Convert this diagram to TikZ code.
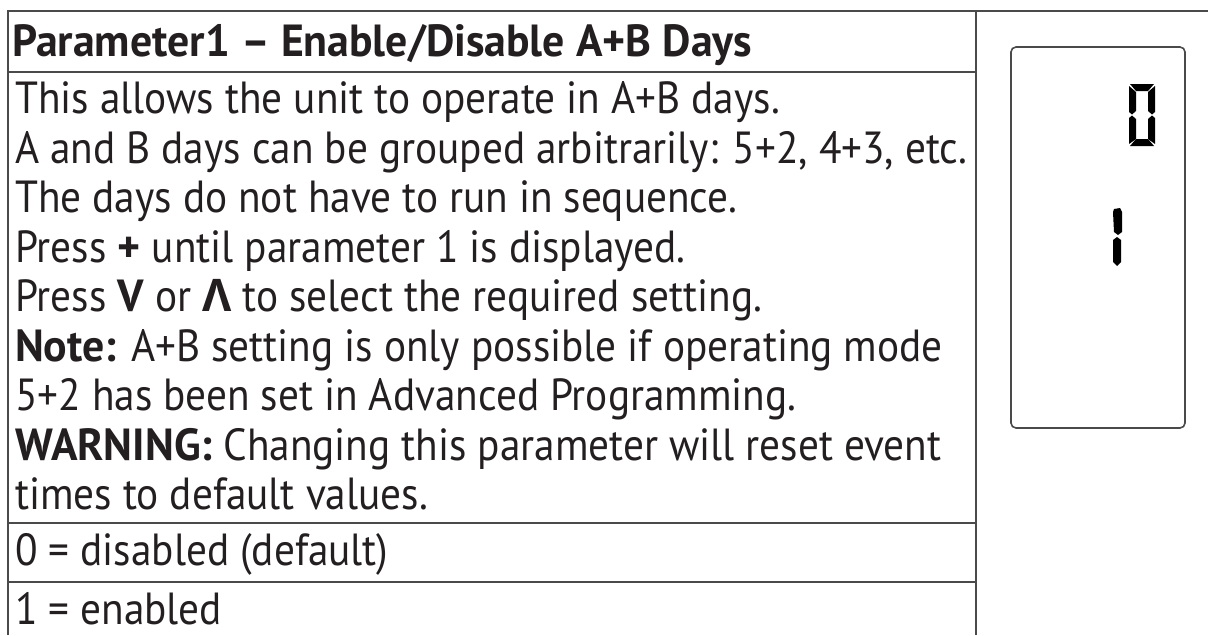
\documentclass[tikz,border=0pt]{standalone}
\usepackage{fontspec}
\newfontfamily\probefont{PT Sans}
\newlength\probewd
\newlength\probewdb
\settowidth\probewd{\probefont\fontsize{45}{49.5}\selectfont A and B days can be grouped arbitrarily: 5+2, 4+3, etc.}
\settowidth\probewdb{\probefont\bfseries\fontsize{45}{49.5}\selectfont Parameter1 – Enable/Disable A+B Days}
\pgfmathsetmacro\stretchA{952/\probewd}
\pgfmathsetmacro\stretchB{740/\probewdb}
\edef\dofonts{\noexpand\setmainfont{PT Sans}[FakeStretch=\stretchA, BoldFeatures={FakeStretch=\stretchB}]}
\dofonts
\newfontfamily\greekfont{Open Sans}
\definecolor{rulecol}{HTML}{4A4A4A}
\definecolor{txtcol}{HTML}{231F20}
\tikzset{
  rule/.style={draw=rulecol, line width=1.8pt},
  txt/.style={anchor=base west, inner sep=0pt, text=txtcol, font=\fontsize{45}{49.5}\selectfont},
  seg/.style={fill=black, draw=none},
  lcdbox/.style={draw=rulecol, line width=1.6pt, rounded corners=5pt}
}
\begin{document}
\begin{tikzpicture}[x=1pt,y=-1pt]
\useasboundingbox (0,0) rectangle (1208,635);
% table rules
\coordinate (tl) at (8,11);
\coordinate (tr) at (1208,11);
\coordinate (bl) at (8,635);
\coordinate (dt) at (976,11);
\coordinate (db) at (976,635);
\draw[rule] (7,11) -- (tr);
\draw[rule] (tl) -- (bl);
\draw[rule] (dt) -- (db);
\draw[rule] (8,72) -- (976,72);
\draw[rule] (8,523) -- (976,523);
\draw[rule] (8,582) -- (976,582);
% title
\node[txt] (title) at (12,56) {\bfseries Parameter1 – Enable/Disable A+B Days};
% body
\node[txt] (l1) at (15,113.5) {This allows the unit to operate in A+B days.};
\node[txt] (l2) at (15,163) {A and B days can be grouped arbitrarily: 5+2, 4+3, etc.};
\node[txt] (l3) at (15,212.5) {The days do not have to run in sequence.};
\node[txt] (l4) at (15,262) {Press \textbf{+} until parameter 1 is displayed.};
\node[txt] (l5) at (15,311.5) {Press \textbf{V} or {\greekfont\bfseries Λ} to select the required setting.};
\node[txt] (l6) at (15,361) {\textbf{Note:} A+B setting is only possible if operating mode};
\node[txt] (l7) at (15,410.5) {5+2 has been set in Advanced Programming.};
\node[txt] (l8) at (15,460) {\textbf{WARNING:} Changing this parameter will reset event};
\node[txt] (l9) at (15,509.5) {times to default values.};
\node[txt] (v0) at (15,565) {0 = disabled (default)};
\node[txt] (v1) at (15,624) {1 = enabled};
% LCD
\draw[lcdbox] (1011,47) rectangle (1185,428);
% digit 0
\fill[seg] (1130,84)--(1154,84)--(1148,91)--(1136,91)--cycle;
\fill[seg] (1129,86)--(1136,92)--(1136,111)--(1132,114.5)--(1129,112)--cycle;
\fill[seg] (1155,86)--(1155,112)--(1152,114.5)--(1148,111)--(1148,92)--cycle;
\fill[seg] (1129,118)--(1132,115.5)--(1136,119)--(1136,139)--(1129,144)--cycle;
\fill[seg] (1155,118)--(1155,144)--(1148,139)--(1148,119)--(1152,115.5)--cycle;
\fill[seg] (1130,146)--(1136,139)--(1148,139)--(1154,146)--cycle;
% digit 1
\fill[seg] (1114,209)--(1120,208)--(1122,212)--(1122,232)--(1118,235)--(1114,232)--(1113,212)--cycle;
\fill[seg] (1113,240)--(1117,237)--(1121,240)--(1121,262)--(1117,266)--(1113,262)--cycle;
\end{tikzpicture}
\end{document}
